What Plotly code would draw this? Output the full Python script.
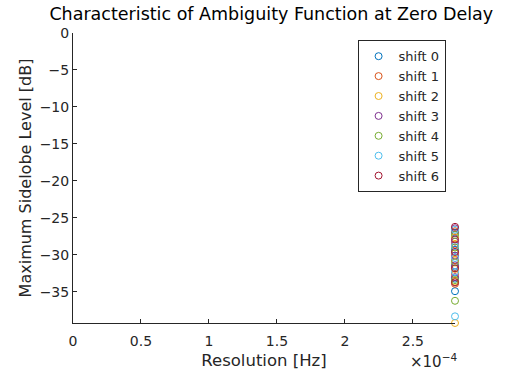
import plotly.graph_objects as go

series_names = ["shift 0", "shift 1", "shift 2", "shift 3", "shift 4", "shift 5", "shift 6"]
colors = ["#0072BD", "#D95319", "#EDB120", "#7E2F8E", "#77AC30", "#4DBEEE", "#A2142F"]
resolution = 2.81e-4
sidelobe = [
    [-27.0, -29.3, -31.6, -33.2, -34.9],
    [-26.8, -28.6, -30.7, -32.6, -33.9],
    [-27.6, -29.8, -31.9, -33.6, -39.2],
    [-26.4, -28.2, -30.1, -31.4, -33.0],
    [-27.3, -29.0, -31.0, -33.4, -36.2],
    [-26.6, -28.8, -30.4, -32.3, -38.3],
    [-26.2, -27.9, -29.6, -31.8, -33.7],
]
x_ticks = [0, 0.5e-4, 1e-4, 1.5e-4, 2e-4, 2.5e-4]
x_ticklabels = ["0", "0.5", "1", "1.5", "2", "2.5"]
y_ticks = [0, -5, -10, -15, -20, -25, -30, -35]
y_ticklabels = ["0", "\u22125", "\u221210", "\u221215", "\u221220", "\u221225", "\u221230", "\u221235"]

font_family = "DejaVu Sans, sans-serif"

fig = go.Figure()
for name, col, vals in zip(series_names, colors, sidelobe):
    fig.add_trace(go.Scatter(
        x=[resolution] * len(vals), y=vals, mode="markers", name=name,
        marker=dict(symbol="circle-open", size=7, color=col, line=dict(width=1, color=col)),
        cliponaxis=False,
    ))

fig.update_layout(
    width=507, height=374,
    margin=dict(l=73, r=52, t=33, b=51, autoexpand=False),
    paper_bgcolor="white", plot_bgcolor="white",
    font=dict(family=font_family, color="#262626", size=14),
    title=dict(text="Characteristic of Ambiguity Function at Zero Delay", x=0.535, xanchor="center",
               y=0.962, yanchor="middle", font=dict(size=17.5, color="black")),
    xaxis=dict(range=[0, resolution], tickvals=x_ticks, ticktext=x_ticklabels, automargin=False,
               showgrid=False, zeroline=False, showline=True, linecolor="#262626", linewidth=1,
               ticks="inside", ticklen=4, tickcolor="#262626", tickfont=dict(size=14),
               ticklabelstandoff=5,
               title=dict(text="Resolution [Hz]", font=dict(size=16.5), standoff=6)),
    yaxis=dict(range=[-39.2, 0], tickvals=y_ticks, ticktext=y_ticklabels, automargin=False,
               showgrid=False, zeroline=False, showline=True, linecolor="#262626", linewidth=1,
               ticks="inside", ticklen=4, tickcolor="#262626", tickfont=dict(size=14),
               title=dict(text="Maximum Sidelobe Level [dB]", font=dict(size=16), standoff=4)),
    legend=dict(x=0.745, y=0.975, xanchor="left", yanchor="top", bordercolor="#262626", borderwidth=1,
                bgcolor="white", font=dict(size=13), tracegroupgap=0, itemsizing="trace"),
    annotations=[dict(text="\u00d710<sup>\u22124</sup>", x=0.877, y=-0.09, xref="paper", yref="paper",
                      xanchor="left", yanchor="top", showarrow=False, font=dict(size=15, color="#262626"))],
)

fig.write_html("out.html")
